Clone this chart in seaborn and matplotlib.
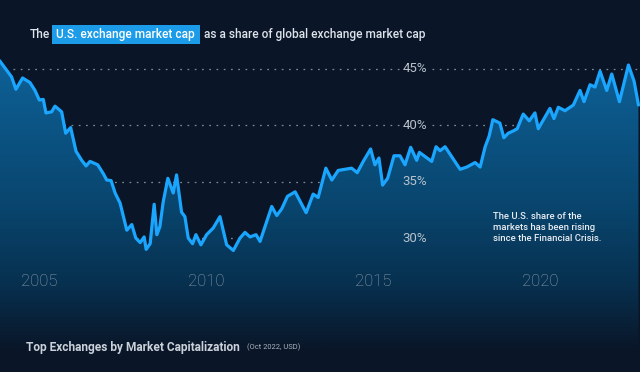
import numpy as np
import matplotlib
matplotlib.use("Agg")
import matplotlib.pyplot as plt
import seaborn as sns
from matplotlib.colors import LinearSegmentedColormap
from matplotlib.patches import Rectangle, Circle
from matplotlib import font_manager

# U.S. share of global exchange market cap (%)
years = [2003.80, 2004.01, 2004.16, 2004.29, 2004.49, 2004.71, 2004.86, 2004.99, 2005.11, 2005.19,
         2005.36, 2005.46, 2005.66, 2005.78, 2005.93, 2006.09, 2006.26, 2006.39, 2006.51, 2006.74,
         2006.91, 2007.01, 2007.14, 2007.26, 2007.41, 2007.61, 2007.76, 2007.88, 2008.01, 2008.13,
         2008.19, 2008.31, 2008.43, 2008.51, 2008.60, 2008.70, 2008.84, 2009.00, 2009.10, 2009.25,
         2009.35, 2009.45, 2009.58, 2009.68, 2009.83, 2010.00, 2010.20, 2010.40, 2010.60, 2010.80,
         2011.00, 2011.15, 2011.30, 2011.48, 2011.60, 2011.95, 2012.10, 2012.25, 2012.42, 2012.65,
         2012.98, 2013.19, 2013.34, 2013.57, 2013.75, 2013.94, 2014.34, 2014.51, 2014.69, 2014.91,
         2015.04, 2015.16, 2015.27, 2015.42, 2015.61, 2015.79, 2015.94, 2016.11, 2016.29, 2016.37,
         2016.74, 2016.87, 2016.99, 2017.14, 2017.59, 2017.79, 2018.04, 2018.19, 2018.34, 2018.46,
         2018.57, 2018.78, 2018.90, 2019.03, 2019.18, 2019.30, 2019.48, 2019.66, 2019.83, 2019.93,
         2020.28, 2020.40, 2020.53, 2020.73, 2020.98, 2021.18, 2021.30, 2021.48, 2021.63, 2021.78,
         2021.98, 2022.13, 2022.36, 2022.63, 2022.80, 2022.93]
us_share = [45.74, 44.9, 44.3, 43.2, 44.2, 43.8, 43.1, 42.25, 42.3, 41.1,
            41.2, 41.7, 41.2, 39.3, 39.8, 37.7, 36.9, 36.4, 36.8, 36.5,
            35.7, 35.15, 35.1, 34.0, 33.1, 30.7, 31.2, 30.0, 29.6, 30.1,
            29.0, 29.5, 33.0, 30.3, 31.0, 33.2, 35.3, 34.0, 35.6, 32.3,
            31.9, 30.0, 29.5, 30.3, 29.4, 30.3, 30.9, 31.9, 29.4, 28.9,
            30.0, 30.5, 30.1, 30.3, 29.7, 32.8, 32.0, 32.6, 33.7, 34.1,
            32.25, 33.9, 33.6, 36.2, 35.15, 36.0, 36.2, 35.8, 36.8, 37.9,
            36.5, 37.1, 34.7, 35.3, 37.3, 37.3, 36.5, 38.05, 36.9, 37.6,
            36.8, 38.1, 37.75, 38.1, 36.1, 36.3, 36.7, 36.3, 38.1, 39.05,
            40.5, 40.2, 38.9, 39.3, 39.5, 39.7, 41.0, 40.4, 41.1, 39.7,
            41.5, 40.6, 41.6, 41.3, 41.8, 43.1, 42.1, 43.6, 43.4, 44.8,
            43.1, 44.55, 42.1, 45.35, 43.9, 41.8]

year_ticks = [2005, 2010, 2015, 2020]
pct_ticks = [45, 40, 35, 30]

BG = "#0a1628"
LINE = "#1aa6ff"
HILITE = "#1b9be8"
W, H = 640, 372

sns.set_theme(style="dark")
plt.rcParams['font.family'] = ['Roboto', 'DejaVu Sans']

names = {f.name for f in font_manager.fontManager.ttflist}
NARROW = ['Liberation Sans Narrow', 'Roboto'] if 'Liberation Sans Narrow' in names else ['Roboto']

fig = plt.figure(figsize=(W / 100, H / 100), dpi=100, facecolor=BG)

ax = fig.add_axes([0, 1 - 350 / H, 1, 295 / H])
ax.set_facecolor(BG)
ax.set_axis_off()

x0, x1 = 2003.814, 2022.976
ytop, ybot = 46.24, 20.07

# dotted guide lines, with a gap for the labels
for v in pct_ticks:
    ax.hlines(v, 0.02, 0.625, transform=ax.get_yaxis_transform(), colors="#7d8a99",
              linestyles=(0, (1.4, 4.4)), linewidth=0.9, zorder=0.5)
    ax.hlines(v, 0.675, 1.0, transform=ax.get_yaxis_transform(), colors="#7d8a99",
              linestyles=(0, (1.4, 4.4)), linewidth=0.9, zorder=0.5)

# gradient area under the line
poly = ax.fill_between(years, us_share, ybot, color="none", linewidth=0)
grad_cmap = LinearSegmentedColormap.from_list(
    "area", [(0.0, BG), (0.22, "#07304f"), (0.5, "#09466f"), (1.0, "#0e6299")])
grad = np.linspace(0, 1, 256).reshape(-1, 1)
im = ax.imshow(grad, extent=[x0, x1, ybot, ytop], origin="lower", aspect="auto",
               cmap=grad_cmap, zorder=1)
im.set_clip_path(poly.get_paths()[0], transform=ax.transData)

sns.lineplot(x=years, y=us_share, ax=ax, color=LINE, linewidth=2.3, zorder=3)

ax.set_xlim(x0, x1)
ax.set_ylim(ybot, ytop)

for v in pct_ticks:
    ax.text(0.648, v, f"{v}%", transform=ax.get_yaxis_transform(), ha="center", va="center",
            color="#b8c2cc", fontsize=9.5, family=NARROW, zorder=4)
for yr in year_ticks:
    ax.text(yr, 26.14, str(yr), ha="center", va="center", color="#93a1b0",
            fontsize=12, family=NARROW, fontweight="light", zorder=4)

# title with highlighted phrase
fig.add_artist(Rectangle((52 / W, 1 - 44 / H), 148 / W, 19 / H, transform=fig.transFigure,
                         facecolor=HILITE, edgecolor="none"))
fig.text(30 / W, 1 - 34.5 / H, "The", color="#dde3ea", fontsize=8.6, fontweight="medium",
         va="center", ha="left")
fig.text(56 / W, 1 - 34.5 / H, "U.S. exchange market cap", color="white", fontsize=8.6,
         fontweight="medium", va="center", ha="left")
fig.text(204 / W, 1 - 34.5 / H, "as a share of global exchange market cap", color="#dde3ea",
         fontsize=8.6, fontweight="medium", va="center", ha="left")

fig.text(492.7 / W, 1 - 211.5 / H,
         "The U.S. share of the\nmarkets has been rising\nsince the Financial Crisis.",
         color="#e8edf2", fontsize=6.8, fontweight="medium", va="top", ha="left",
         linespacing=1.35)

fig.text(26 / W, 1 - 347 / H, "Top Exchanges by Market Capitalization", color="#c9d1da",
         fontsize=8.6, fontweight="bold", va="center", ha="left")
fig.text(247 / W, 1 - 347.5 / H, "(Oct 2022, USD)", color="#aab4bf", fontsize=5.4,
         va="center", ha="left")

fig.add_artist(Circle((57 / W, 1 - 399 / H), 30 / W, transform=fig.transFigure,
                      facecolor="#1b6a8c", edgecolor="#3aa0c0", linewidth=1))

fig.savefig("out.png", dpi=100, facecolor=BG)
